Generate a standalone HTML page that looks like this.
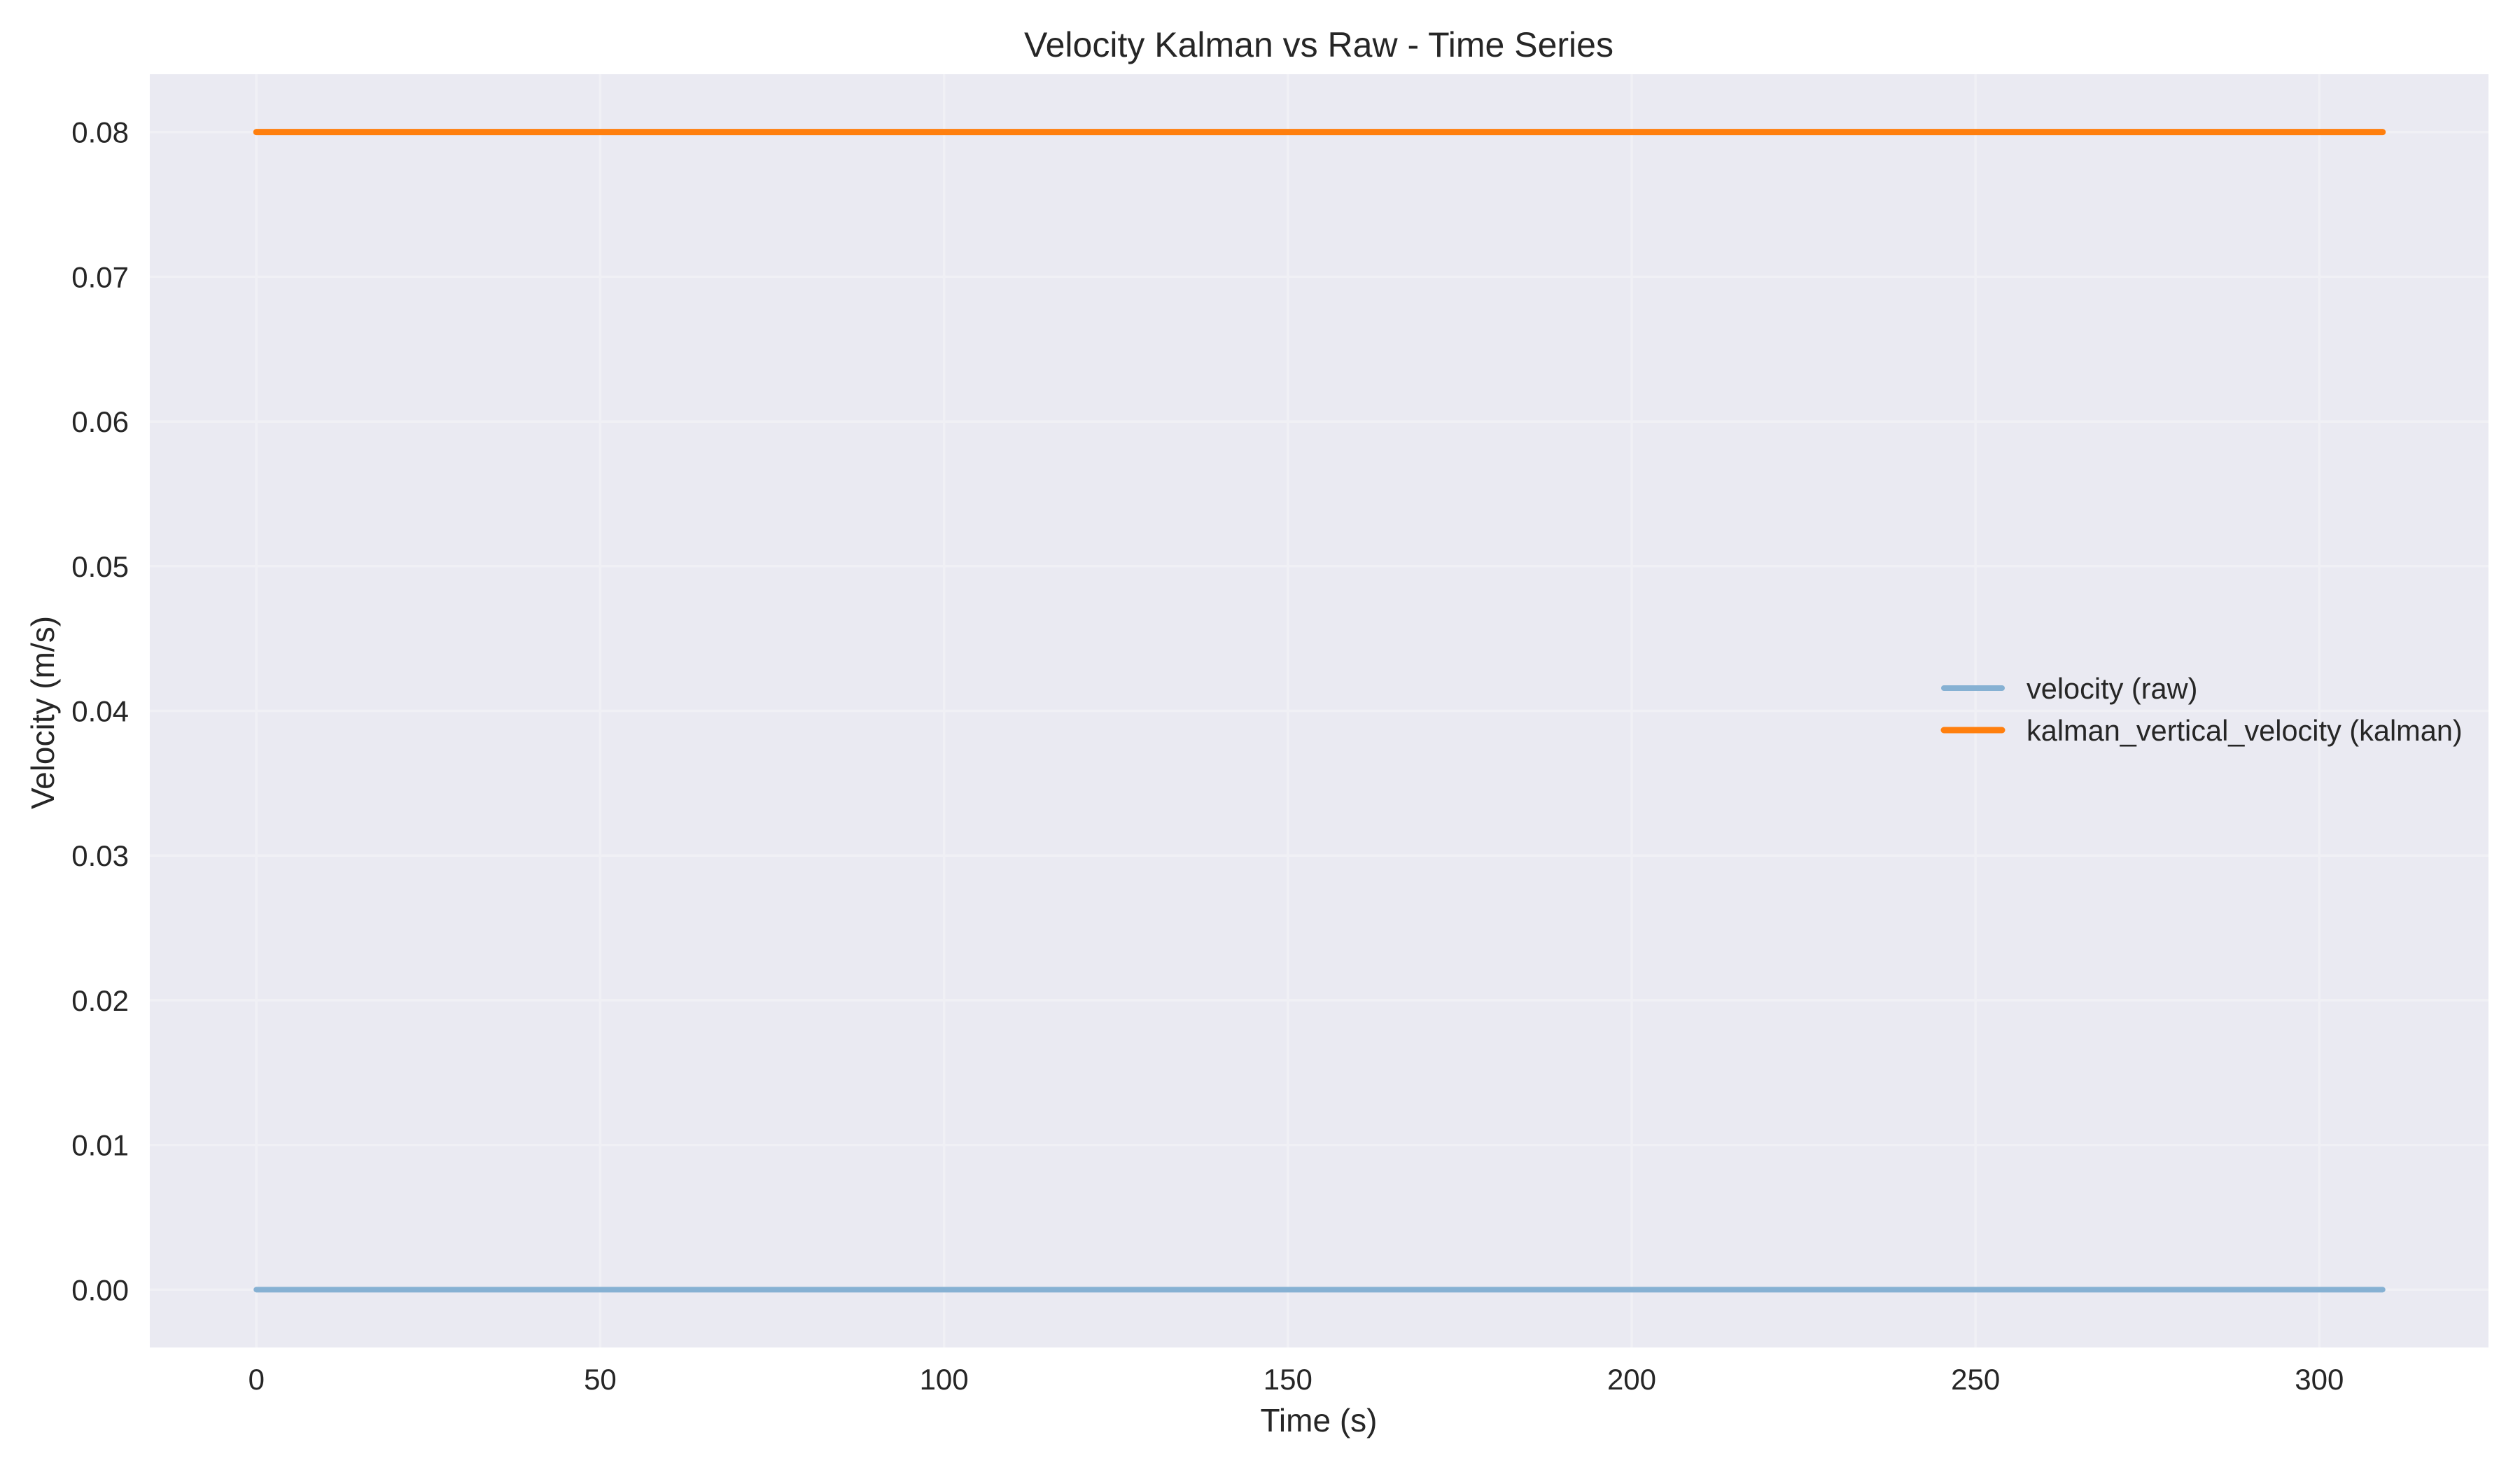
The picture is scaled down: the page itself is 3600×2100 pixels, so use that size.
<!DOCTYPE html>
<html><head><meta charset="utf-8">
<style>html,body{margin:0;padding:0;background:#fff}svg{display:block}text{font-family:"Liberation Sans",Arial,sans-serif;fill:#262626}</style>
</head><body>
<svg id="chart" width="3600" height="2100" viewBox="0 0 3600 2100" xmlns="http://www.w3.org/2000/svg">
<rect x="0" y="0" width="3600" height="2100" fill="#ffffff"/>
<rect x="214" y="106" width="3341" height="1819" fill="#eaeaf2"/>
<g id="grid"></g>
<g id="series"></g>
<g id="ticks"></g>
<text x="1884" y="81" font-size="50" text-anchor="middle">Velocity Kalman vs Raw - Time Series</text>
<text x="1884" y="2045" font-size="46" text-anchor="middle">Time (s)</text>
<text transform="translate(77,1018) rotate(-90)" font-size="46" text-anchor="middle">Velocity (m/s)</text>
<g>
<g>
<line x1="2777" y1="983" x2="2860" y2="983" stroke="#86b1d3" stroke-width="8" stroke-linecap="round"/>
<text x="2895" y="998" font-size="41.5">velocity (raw)</text>
</g>
<g>
<line x1="2777" y1="1043" x2="2860" y2="1043" stroke="#ff7f0e" stroke-width="9" stroke-linecap="round"/>
<text x="2895" y="1058" font-size="41.5">kalman_vertical_velocity (kalman)</text>
</g>
</g>
</svg>
<script>
const xTicks = [0, 50, 100, 150, 200, 250, 300];
const yTicks = [0.00, 0.01, 0.02, 0.03, 0.04, 0.05, 0.06, 0.07, 0.08];
const yTickLabels = ["0.00","0.01","0.02","0.03","0.04","0.05","0.06","0.07","0.08"];
const timeRange = [0, 309.2];
const rawValues = [0, 0];
const kalmanValues = [0.08, 0.08];

const NS = "http://www.w3.org/2000/svg";
const X0 = 214, X1 = 3555, Y0 = 106, Y1 = 1925;
const xMin = -15.5, xMax = 324.6, yMin = -0.004, yMax = 0.084;
function xs(v){ return X0 + (v - xMin) / (xMax - xMin) * (X1 - X0); }
function ys(v){ return Y1 - (v - yMin) / (yMax - yMin) * (Y1 - Y0); }
function mk(tag, attrs, parent){ const e = document.createElementNS(NS, tag); for (const k in attrs) e.setAttribute(k, attrs[k]); parent.appendChild(e); return e; }

const grid = document.getElementById('grid');
const ticks = document.getElementById('ticks');
const series = document.getElementById('series');

xTicks.forEach(t => {
  const g = mk('line', {x1: xs(t), x2: xs(t), y1: Y0, y2: Y1, stroke: '#f0f0f5', 'stroke-width': 3.5}, grid);
  
  
  const tx = mk('text', {x: xs(t), y: 1985, 'font-size': 42, 'text-anchor': 'middle'}, ticks);
  tx.textContent = String(t);
  
  
});
yTicks.forEach((t, i) => {
  const g = mk('line', {x1: X0, x2: X1, y1: ys(t), y2: ys(t), stroke: '#f0f0f5', 'stroke-width': 3.5}, grid);
  
  
  const tx = mk('text', {x: 184, y: ys(t) + 15, 'font-size': 42, 'text-anchor': 'end'}, ticks);
  tx.textContent = yTickLabels[i];
  
  
});

const rawLine = mk('line', {x1: xs(timeRange[0]), x2: xs(timeRange[1]), y1: ys(rawValues[0]), y2: ys(rawValues[1]), stroke: '#86b1d3', 'stroke-width': 8, 'stroke-linecap': 'round'}, series);


const kLine = mk('line', {x1: xs(timeRange[0]), x2: xs(timeRange[1]), y1: ys(kalmanValues[0]), y2: ys(kalmanValues[1]), stroke: '#ff7f0e', 'stroke-width': 9, 'stroke-linecap': 'round'}, series);


</script>
</body></html>
